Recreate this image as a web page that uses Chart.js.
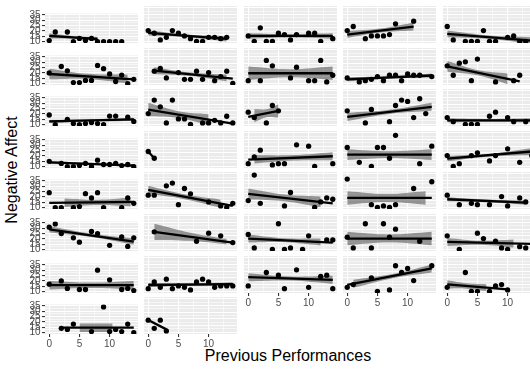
<!DOCTYPE html>
<html>
<head>
<meta charset="utf-8">
<script src="https://cdn.jsdelivr.net/npm/chart.js@4.4.1/dist/chart.umd.min.js"></script>
<style>
  html, body { margin: 0; padding: 0; background: #fff; }
  body { position: relative; width: 530px; height: 369px; overflow: hidden; font-family: "Liberation Sans", Arial, sans-serif; }
  canvas { position: absolute; }
  .title { position: absolute; font-size: 16px; line-height: 18px; color: #000; white-space: nowrap; }
  #xtitle { left: 288px; top: 347px; transform: translateX(-50%); }
  #ytitle { left: 12px; top: 170px; transform: translate(-50%, -50%) rotate(-90deg); }
</style>
</head>
<body>
<div class="title" id="xtitle">Previous Performances</div>
<div class="title" id="ytitle">Negative Affect</div>
<script>
// axis breaks
const xBreaks = [0, 5, 10];
const xMinor = [2.5, 7.5, 12.5];
const yBreaks = [10, 15, 20, 25, 30, 35];
const yMinor = [12.5, 17.5, 22.5, 27.5, 32.5];

// one entry per facet, row by row
const ptsX = [
  [0,1,3,4,5,6,7,8,9,10,11,12],
  [0,1,2,3,4,5,6,7,8,9,10,11,12,13],
  [0,1,2,3,4,5,6,7,8,10,11,12,14],
  [0,1,3,4,5,6,7,8,11],
  [0,1,3,4,5,6,7,8,10,11,12,13],
  [0,2,3,4,5,6,7,8,9,10,11,12,13,14],
  [1,2,3,5,6,7,8,9,10,11,12,13,14],
  [0,2,3,4,7,8,10,11,12,13,14],
  [0,2,3,4,5,6,7,8,9,10,11,12,14],
  [0,1,2,3,4,5,8,11,12],
  [0,1,3,4,5,6,7,8,9,10,11,13,14],
  [0,1,2,3,4,5,6,7,9,10,11,12,13,14],
  [0,1,3,4,5],
  [0,3,4,7,8,9,10,11,12,13],
  [0,1,3,4,5,7,8,10,11,13],
  [0,2,3,4,5,6,7,8,9,10,11,12,13,14],
  [0,1],
  [0,1,2,4,5,6,8,10,11,14],
  [0,2,4,5,6,7,8,12,14],
  [0,1,2,4,5,7,8,10,12,14],
  [0,1,2,4,5,6,7,8,9,12,13,14],
  [0,1,3,4,5,6,7,10,12,13,14],
  [0,1,2,6,7,11,12,13,14],
  [0,4,5,6,7,8,11,14],
  [0,2,4,5,7,9,10,12,13],
  [0,1,2,4,5,7,8,10,12,13,14],
  [1,8,10,12,14],
  [0,1,4,5,6,7,9,10,13,14],
  [0,1,3,4,6,7,8,12],
  [0,2,5,6,8,9,10,12,13],
  [0,2,3,5,6,8,10,12,13,14],
  [0,1,2,3,4,5,6,7,8,9,10,11,12,13,14],
  [0,3,5,6,8,10,12,13,14],
  [0,1,4,5,7,8,9,10,11,14],
  [0,3,4,5,7,8,9,10],
  [2,3,4,7,9,10,11,12,13,14],
  [0,1,2,3]
];
const ptsY = [
  [11,19,19,10,13,11,13,10,10,10,10,10],
  [18,16,11,13,18,16,14,12,10,10,13,13,12,13],
  [14,10,20,10,10,16,15,11,15,16,16,10,12],
  [18,21,12,14,14,14,15,23,25],
  [21,11,10,10,10,18,10,10,13,14,10,10],
  [20,26,22,11,11,13,13,27,24,19,12,18,10,14],
  [19,21,14,18,13,13,19,13,18,12,15,19,10],
  [12,12,27,23,14,22,12,12,27,11,16],
  [14,11,12,13,15,12,16,16,12,17,16,16,15],
  [23,16,25,26,12,28,11,12,16],
  [19,10,15,11,10,11,12,11,10,18,18,17,13],
  [18,28,23,11,28,14,14,10,11,11,13,11,16,11],
  [19,15,11,24,20],
  [20,11,21,12,24,28,27,15,29,18],
  [15,12,10,10,10,16,19,15,12,12],
  [15,13,10,10,11,13,10,16,12,12,13,11,12,10],
  [21,16],
  [12,17,22,11,12,12,26,25,10,12],
  [24,13,10,24,24,16,33,12,25],
  [18,10,12,18,20,14,18,23,13,18],
  [24,10,10,10,11,23,19,24,10,10,19,14],
  [19,19,26,28,12,24,20,14,11,10,13],
  [15,34,13,11,21,10,14,17,16],
  [31,12,10,11,10,12,24,29],
  [19,12,13,12,12,18,11,17,14],
  [31,34,25,21,17,27,25,14,22,13,21],
  [23,16,22,20,15],
  [21,11,10,29,10,11,10,20,17,17],
  [19,11,29,11,29,19,25,16],
  [20,10,22,18,16,11,10,12,11],
  [17,20,13,12,12,30,21,12,13,11],
  [12,17,13,19,12,14,13,11,17,19,17,13,14,14,14],
  [14,24,22,12,26,13,21,22,12],
  [13,15,20,10,11,29,24,27,18,29],
  [13,24,10,10,10,14,15,11],
  [14,13,18,11,34,11,13,11,18,10],
  [19,13,19,11]
];
// fitted line ends
const fitX = [
  [0,8],[0,13],[0,14],[0,11],[0,14],
  [0,14],[1,14],[0,14],[0,14],[0,12],
  [0,14],[0,14],[0,5],[0,14],[0,14],
  [0,14],[0,1],[0,14],[0,14],[0,14],
  [0,14],[0,14],[0,14],[0,14],[0,13],
  [0,14],[1,14],[0,14],[0,14],[0,14],
  [0,14],[0,14],[0,14],[0,14],[0,10],
  [2,14],[0,3]
];
const fitY = [
  [15.3,12.5],[16.3,11.8],[14,14],[15,21],[15.5,10.5],
  [19,14],[19.5,13.5],[17.5,17.5],[13,15.8],[22.6,11.5],
  [13,15],[21,10.5],[15.5,20],[15.5,23],[13,13],
  [14,11],[21,16],[15,17.5],[18.7,18.7],[15.7,21],
  [14.5,15.3],[23,11],[20,13],[17,17],[16,13.5],
  [29,17.5],[23,15],[18,15],[18,18],[15.5,14],
  [16,16],[14.7,15.3],[20.5,18.5],[14.7,27],[15.2,11.4],
  [14.6,14.6],[19.2,12.2]
];
// confidence band: x range and half widths (start, middle, end)
const bandX = [
  [0,8],[0,13],[0,14],[0,11],[0,14],
  [0,13],[1,13],[0,14],[0,14],[0,10],
  [0,14],[0,10],[1,5],[0,14],[0,14],
  [0,14],null,[1,14],[0,14],[0,14],
  [2.5,13.5],[0,12],[0,12],[0,13],[0,13],
  [0,14],[1,13],[0,12],[0,14],[0,11],
  [0,14],[0,14],[0,14],[1,14],[0,6.5],
  [5,10.5],null
];
const bandW = [
  [2.5,1.2,2],[2,1,2],[2,1.2,2],[2.5,1.5,3],[2.5,1.3,2.5],
  [5,2.5,4],[2.5,1.3,2.5],[5,3,5],[1.5,0.8,1.5],[4,2,4],
  [1.5,1,1.5],[5,2.5,4],[5,3,5],[3,1.5,3],[1.5,1,1.5],
  [1.2,0.8,1.2],null,[3,2,3],[4,2.5,4],[2,1,2.5],
  [4,2.5,4],[3,1.8,3],[4,2.5,4],[5,3,5],[1.5,1,1.5],
  [3,1.5,3],[6,3,2],[3,1.5,2.5],[5,3,5],[3,1.5,3],
  [4,2.5,4],[1.5,0.8,1.5],[3,1.5,3],[3,1.5,3],[3,2,2.5],
  [4,4,4],null
];

const NCOL = 5;
const PANEL = { left: 45, top: 6, w: 93, h: 37, dx: 99.4, dy: 41.6 };
const MARGIN_L = 40, MARGIN_B = 22;
const tickFont = { family: '"Liberation Sans", Arial, sans-serif', size: 10 };

const panelBg = {
  id: 'panelBg',
  beforeDraw(chart) {
    const a = chart.chartArea, c = chart.ctx;
    c.save();
    c.fillStyle = '#EBEBEB';
    c.fillRect(a.left, a.top, a.right - a.left, a.bottom - a.top);
    c.restore();
  }
};

function ticksOf(major, minor) {
  return major.concat(minor).sort((a, b) => a - b).map(v => ({ value: v }));
}

function lineAt(i, x) {
  const [x0, x1] = fitX[i], [y0, y1] = fitY[i];
  return x1 === x0 ? y0 : y0 + (y1 - y0) * (x - x0) / (x1 - x0);
}

ptsX.forEach((xs, i) => {
  const row = Math.floor(i / NCOL), col = i % NCOL;
  const showY = col === 0;
  const showX = row === 7 || (row === 6 && col >= 2);

  const cv = document.createElement('canvas');
  cv.width = MARGIN_L + PANEL.w;
  cv.height = PANEL.h + MARGIN_B;
  cv.style.left = (Math.round(PANEL.left + col * PANEL.dx) - MARGIN_L) + 'px';
  cv.style.top = Math.round(PANEL.top + row * PANEL.dy) + 'px';
  document.body.appendChild(cv);

  const datasets = [
    {
      data: xs.map((x, k) => ({ x: x, y: ptsY[i][k] })),
      backgroundColor: '#000', borderWidth: 0, pointRadius: 2.65
    },
    {
      data: fitX[i].map((x, k) => ({ x: x, y: fitY[i][k] })),
      showLine: true, borderColor: '#000', borderWidth: 2.3, pointRadius: 0
    }
  ];
  if (bandX[i]) {
    const [b0, b1] = bandX[i];
    const bx = [b0, (b0 + b1) / 2, b1];
    datasets.push({
      data: bx.map((x, k) => ({ x: x, y: lineAt(i, x) + bandW[i][k] })),
      showLine: true, borderWidth: 0, borderColor: 'transparent', pointRadius: 0, tension: 0.4
    });
    datasets.push({
      data: bx.map((x, k) => ({ x: x, y: lineAt(i, x) - bandW[i][k] })),
      showLine: true, borderWidth: 0, borderColor: 'transparent', pointRadius: 0, tension: 0.4,
      fill: 2, backgroundColor: 'rgba(90, 90, 90, 0.62)'
    });
  }

  new Chart(cv, {
    type: 'scatter',
    data: { datasets: datasets },
    options: {
      responsive: false,
      animation: false,
      events: [],
      layout: { padding: 0, autoPadding: false },
      plugins: { legend: { display: false }, tooltip: { enabled: false } },
      scales: {
        x: {
          type: 'linear', min: -0.7, max: 14.7,
          afterBuildTicks: s => { s.ticks = ticksOf(xBreaks, xMinor); },
          afterFit: s => { s.height = MARGIN_B; },
          border: { display: false },
          grid: {
            color: '#FFFFFF',
            lineWidth: c => xBreaks.includes(c.tick.value) ? 1.1 : 0.55,
            drawTicks: showX, tickLength: 3,
            tickColor: c => xBreaks.includes(c.tick.value) ? '#333333' : 'transparent'
          },
          ticks: {
            display: showX, autoSkip: false, maxRotation: 0, padding: 1,
            color: '#4D4D4D', font: tickFont,
            callback: v => xBreaks.includes(v) ? String(v) : ''
          }
        },
        y: {
          type: 'linear', min: 8.75, max: 36.25,
          afterBuildTicks: s => { s.ticks = ticksOf(yBreaks, yMinor); },
          afterFit: s => { s.width = MARGIN_L; },
          border: { display: false },
          grid: {
            color: '#FFFFFF',
            lineWidth: c => yBreaks.includes(c.tick.value) ? 1.1 : 0.55,
            drawTicks: showY, tickLength: 3,
            tickColor: c => yBreaks.includes(c.tick.value) ? '#333333' : 'transparent'
          },
          ticks: {
            display: showY, autoSkip: false, padding: 1.5,
            color: '#4D4D4D', font: tickFont,
            callback: v => yBreaks.includes(v) ? String(v) : ''
          }
        }
      }
    },
    plugins: [panelBg]
  });
});
</script>
</body>
</html>
